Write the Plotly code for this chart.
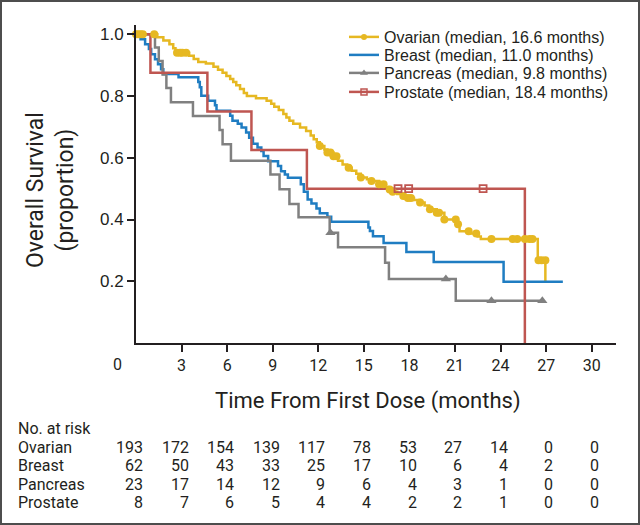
import plotly.graph_objects as go

# %%
# Kaplan-Meier step curves (months, proportion)
ovarian_t = [0, 1.4, 1.8, 2.2, 2.45, 2.6, 3.5, 3.8, 4.1, 4.6, 5.1, 5.4, 5.7, 5.95, 6.2, 6.4, 6.6, 6.85,
             7.1, 7.3, 7.9, 8.6, 8.9, 9.1, 9.4, 9.7, 9.9, 10.1, 10.35, 10.8, 11.2, 11.5, 11.7, 11.9,
             12.1, 12.4, 12.6, 13.0, 13.3, 13.6, 13.9, 14.2, 14.5, 14.8, 15.2, 15.5, 16.0, 16.4, 16.6,
             16.9, 17.2, 17.5, 17.9, 18.3, 18.7, 19.0, 19.3, 19.8, 20.3, 21.15, 21.3, 22.0, 22.5, 22.7,
             26.45, 26.95]
ovarian_s = [1.0, 0.99, 0.98, 0.968, 0.955, 0.94, 0.93, 0.92, 0.91, 0.905, 0.895, 0.885, 0.875, 0.865,
             0.855, 0.845, 0.835, 0.823, 0.81, 0.80, 0.793, 0.785, 0.775, 0.765, 0.755, 0.742, 0.73,
             0.72, 0.71, 0.698, 0.687, 0.672, 0.66, 0.65, 0.638, 0.627, 0.617, 0.605, 0.59, 0.578,
             0.568, 0.558, 0.548, 0.536, 0.53, 0.525, 0.514, 0.505, 0.497, 0.49, 0.483, 0.476, 0.47,
             0.463, 0.455, 0.445, 0.433, 0.422, 0.40, 0.385, 0.362, 0.355, 0.345, 0.337, 0.268, 0.2]
ovarian_cens_t = [0.0, 0.15, 0.3, 0.45, 1.2, 2.7, 2.9, 3.05, 3.3, 12.1, 12.6, 12.8, 13.0, 13.2, 14.0,
                  14.8, 15.5, 16.0, 16.3, 16.7, 16.9, 17.6, 17.9, 18.1, 18.7, 19.35, 19.8, 19.95, 20.3,
                  21.05, 21.2, 21.9, 22.4, 23.4, 24.8, 25.1, 25.6, 25.9, 26.1, 26.5, 26.7, 26.95]
ovarian_cens_s = [1.0, 1.0, 1.0, 1.0, 1.0, 0.94, 0.94, 0.94, 0.94, 0.638, 0.617, 0.617, 0.605, 0.605,
                  0.568, 0.536, 0.525, 0.514, 0.514, 0.497, 0.49, 0.476, 0.47, 0.47, 0.455, 0.433,
                  0.422, 0.422, 0.40, 0.40, 0.385, 0.362, 0.355, 0.337, 0.337, 0.337, 0.337, 0.337,
                  0.337, 0.268, 0.268, 0.268]

breast_t = [0, 0.3, 0.6, 0.85, 1.0, 1.25, 1.45, 1.65, 1.8, 2.8, 4.1, 4.2, 4.3, 4.75, 5.2, 5.3, 6.2,
            6.35, 6.7, 6.95, 7.25, 7.45, 7.7, 8.0, 8.25, 8.4, 8.7, 9.35, 9.55, 9.8, 10.0, 10.85, 11.05,
            11.3, 11.55, 11.88, 12.1, 12.6, 12.85, 15.3, 15.4, 15.6, 16.3, 17.8, 19.6, 24.2, 28.1]
breast_s = [1.0, 0.984, 0.968, 0.952, 0.935, 0.919, 0.903, 0.887, 0.871, 0.861, 0.845, 0.828, 0.801,
            0.785, 0.77, 0.752, 0.736, 0.72, 0.71, 0.698, 0.682, 0.665, 0.645, 0.633, 0.622, 0.606,
            0.589, 0.573, 0.556, 0.546, 0.535, 0.514, 0.49, 0.465, 0.452, 0.436, 0.42, 0.409, 0.393,
            0.374, 0.363, 0.346, 0.324, 0.295, 0.262, 0.198, 0.198]

pancreas_t = [0, 1.25, 1.5, 1.75, 2.0, 2.3, 3.75, 5.5, 5.7, 6.25, 8.85, 9.45, 10.1, 10.7, 12.75, 13.3,
              16.4, 16.65, 21.05, 26.8]
pancreas_s = [1.0, 0.957, 0.913, 0.87, 0.826, 0.78, 0.735, 0.69, 0.644, 0.59, 0.546, 0.498, 0.45,
              0.407, 0.357, 0.31, 0.26, 0.207, 0.137, 0.137]
pancreas_cens_t = [12.8, 20.4, 23.4, 26.75]
pancreas_cens_s = [0.357, 0.207, 0.137, 0.137]

prostate_t = [0, 0.95, 4.7, 7.6, 11.25, 25.6]
prostate_s = [1.0, 0.875, 0.75, 0.625, 0.5, 0.0]
prostate_cens_t = [17.25, 17.95, 22.85]
prostate_cens_s = [0.5, 0.5, 0.5]

legend_names = ["Ovarian (median, 16.6 months)", "Breast (median, 11.0 months)",
                "Pancreas (median, 9.8 months)", "Prostate (median, 18.4 months)"]

# number at risk table
risk_times = [0, 3, 6, 9, 12, 15, 18, 21, 24, 27, 30]
risk_groups = ["Ovarian", "Breast", "Pancreas", "Prostate"]
risk_ovarian = [193, 172, 154, 139, 117, 78, 53, 27, 14, 0, 0]
risk_breast = [62, 50, 43, 33, 25, 17, 10, 6, 4, 2, 0]
risk_pancreas = [23, 17, 14, 12, 9, 6, 4, 3, 1, 0, 0]
risk_prostate = [8, 7, 6, 5, 4, 4, 2, 2, 1, 0, 0]

xticks = [3, 6, 9, 12, 15, 18, 21, 24, 27, 30]
yticks = [0.2, 0.4, 0.6, 0.8, 1.0]

# %%
YELLOW = "#E6B822"
BLUE = "#1F7DC2"
GREY = "#808080"
RED = "#BF5651"
AXIS = "#231F20"
NARROW = "Roboto, Liberation Sans, sans-serif"
SANS = "Liberation Sans, Arial, Helvetica, sans-serif"

fig = go.Figure()

# curves
fig.add_trace(go.Scatter(x=ovarian_t, y=ovarian_s, mode="lines", line_shape="hv",
                         line=dict(color=YELLOW, width=2.5), showlegend=False, hoverinfo="skip"))
fig.add_trace(go.Scatter(x=breast_t, y=breast_s, mode="lines", line_shape="hv",
                         line=dict(color=BLUE, width=2.5), showlegend=False, hoverinfo="skip"))
fig.add_trace(go.Scatter(x=pancreas_t, y=pancreas_s, mode="lines", line_shape="hv",
                         line=dict(color=GREY, width=2.5), showlegend=False, hoverinfo="skip"))
fig.add_trace(go.Scatter(x=prostate_t, y=prostate_s, mode="lines", line_shape="hv",
                         line=dict(color=RED, width=2.5), showlegend=False, hoverinfo="skip"))

# censor marks
fig.add_trace(go.Scatter(x=ovarian_cens_t, y=ovarian_cens_s, mode="markers", showlegend=False,
                         cliponaxis=False, marker=dict(symbol="circle", size=8, color=YELLOW)))
fig.add_trace(go.Scatter(x=pancreas_cens_t, y=pancreas_cens_s, mode="markers", showlegend=False,
                         marker=dict(symbol="triangle-up", size=9, color=GREY)))
fig.add_trace(go.Scatter(x=prostate_cens_t, y=prostate_cens_s, mode="markers", showlegend=False,
                         marker=dict(symbol="square-open", size=7, color=RED, line=dict(width=1.8))))

# legend entries, one small legend per row so the rows can sit as tight as the original
fig.add_trace(go.Scatter(x=[None], y=[None], mode="lines+markers", name=legend_names[0], legend="legend",
                         line=dict(color=YELLOW, width=2.5), marker=dict(symbol="circle", size=6)))
fig.add_trace(go.Scatter(x=[None], y=[None], mode="lines", name=legend_names[1], legend="legend2",
                         line=dict(color=BLUE, width=2.5)))
fig.add_trace(go.Scatter(x=[None], y=[None], mode="lines+markers", name=legend_names[2], legend="legend3",
                         line=dict(color=GREY, width=2.5), marker=dict(symbol="triangle-up", size=7)))
fig.add_trace(go.Scatter(x=[None], y=[None], mode="lines+markers", name=legend_names[3], legend="legend4",
                         line=dict(color=RED, width=2.5),
                         marker=dict(symbol="square-open", size=6, line=dict(width=1.5))))

# %%
L, R, T, B = 136, 24, 25, 182
W, H = 640, 525
pw, ph = W - L - R, H - T - B


def py(px):
    # pixel row -> paper y
    return (H - B - px) / ph


def px_x(px):
    # pixel column -> paper x
    return (px - L) / pw


txt = dict(showarrow=False, xanchor="center", yanchor="middle")
annotations = []
# the lone "0" tick label sits left of the axis
annotations.append(dict(x=px_x(117), y=py(364), xref="paper", yref="paper", text="0",
                        font=dict(family=NARROW, size=16, color=AXIS), **txt))
annotations.append(dict(x=px_x(50), y=py(190), xref="paper", yref="paper",
                        text="Overall Survival<br>(proportion)", textangle=-90,
                        font=dict(family=NARROW, size=23, color=AXIS), **txt))
annotations.append(dict(x=px_x(368), y=py(401), xref="paper", yref="paper",
                        text="Time From First Dose (months)",
                        font=dict(family=NARROW, size=22, color=AXIS), **txt))
left = dict(txt, xanchor="left")
right = dict(txt, xanchor="right")
annotations.append(dict(x=px_x(16), y=py(428), xref="paper", yref="paper", text="No. at risk",
                        font=dict(family=NARROW, size=16, color=AXIS), **left))
rows = [risk_ovarian, risk_breast, risk_pancreas, risk_prostate]
row_px = [447, 465, 484, 502]
for name, vals, rp in zip(risk_groups, rows, row_px):
    annotations.append(dict(x=px_x(16), y=py(rp), xref="paper", yref="paper", text=name,
                            font=dict(family=NARROW, size=16, color=AXIS), **left))
    for t, v in zip(risk_times, vals):
        annotations.append(dict(x=t + 0.6, y=py(rp), xref="x", yref="paper", text=str(v),
                                font=dict(family=NARROW, size=16, color=AXIS), **right))

leg = dict(x=px_x(344), xanchor="left", yanchor="middle", bgcolor="rgba(0,0,0,0)",
           font=dict(family=SANS, size=16, color=AXIS), itemwidth=30, borderwidth=0)
fig.update_layout(
    width=W, height=H,
    margin=dict(l=L, r=R, t=T, b=B),
    paper_bgcolor="white", plot_bgcolor="white",
    showlegend=True,
    legend=dict(leg, y=py(37)),
    legend2=dict(leg, y=py(55)),
    legend3=dict(leg, y=py(73)),
    legend4=dict(leg, y=py(92)),
    annotations=annotations,
    shapes=[dict(type="rect", xref="paper", yref="paper",
                 x0=px_x(1), x1=px_x(639), y0=py(524), y1=py(1),
                 line=dict(color="#4D4D4D", width=2))],
)
fig.update_xaxes(range=[0, 31.6], tickvals=xticks, ticktext=[str(v) for v in xticks],
                 showline=True, linecolor=AXIS, linewidth=2, ticks="outside", ticklen=7,
                 tickwidth=1.5, tickcolor=AXIS, showgrid=False, zeroline=False,
                 tickfont=dict(family=NARROW, size=16, color=AXIS))
fig.update_yaxes(range=[0, 1.03], tickvals=yticks, ticktext=["%.1f" % v for v in yticks],
                 showline=True, linecolor=AXIS, linewidth=2, ticks="outside", ticklen=7,
                 tickwidth=1.5, tickcolor=AXIS, showgrid=False, zeroline=False,
                 tickfont=dict(family=SANS, size=17, color=AXIS))

# page body margin would shift the 640x525 figure; remove it
fig.write_html("out.html", config={"displayModeBar": False},
               post_script="document.body.style.margin='0';")
